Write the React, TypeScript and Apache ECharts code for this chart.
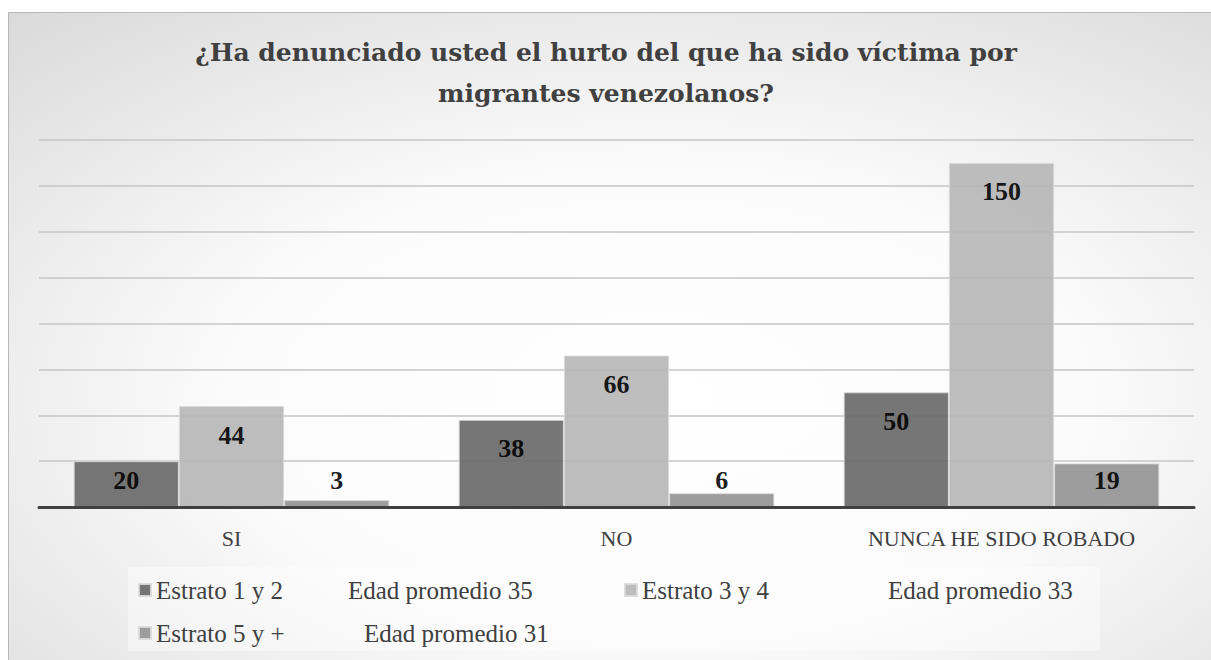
import React, { useEffect, useRef } from 'react';
import * as echarts from 'echarts';

const categories = ['SI', 'NO', 'NUNCA HE SIDO ROBADO'];
const estrato12 = [20, 38, 50];
const estrato34 = [44, 66, 150];
const estrato5 = [3, 6, 19];
const barNames = ['Estrato 1 y 2', 'Estrato 3 y 4', 'Estrato 5 y +'];
const blankNames = ['Edad promedio 35', 'Edad promedio 33', 'Edad promedio 31'];
const yMin = 0;
const yMax = 160;
const yInterval = 20;
const titleText = '¿Ha denunciado usted el hurto del que ha sido víctima por\nmigrantes venezolanos?';

const W = 1203;
const H = 648;

export default function App() {
  const ref = useRef<HTMLDivElement>(null);
  useEffect(() => {
    const chart = echarts.init(ref.current!, null, { renderer: 'svg' });
    const labelFor = (v: number) =>
      v > 24 ? { position: 'insideTop', distance: 16 } : { position: 'insideBottom', distance: 14 };
    const barData = (vals: number[]) => vals.map((v) => ({ value: v, label: labelFor(v) }));
    const bar = (name: string, vals: number[], color: string) => ({
      type: 'bar',
      name,
      data: barData(vals),
      barGap: '0%',
      barCategoryGap: '18%',
      itemStyle: { color, opacity: 0.9, borderColor: '#dadada', borderWidth: 1 },
      label: {
        show: true,
        fontFamily: 'Liberation Serif',
        fontWeight: 'bold',
        fontSize: 26,
        color: '#000',
      },
    });
    const blank = (name: string) => ({
      type: 'line',
      name,
      data: [],
      itemStyle: { color: 'rgba(0,0,0,0)' },
      lineStyle: { color: 'rgba(0,0,0,0)' },
    });
    const legendText = { fontFamily: 'Liberation Serif', fontSize: 25, color: '#404040', lineHeight: 26 };
    const leg = (name: string, left: number, top: number) => ({
      data: [name],
      left,
      top,
      padding: 0,
      icon: 'rect',
      itemWidth: 12,
      itemHeight: 12,
      selectedMode: false,
      textStyle: legendText,
    });
    chart.setOption({
      animation: false,
      graphic: {
        elements: [
          {
            type: 'rect',
            z: -100,
            silent: true,
            shape: { x: 0.5, y: 0.5, width: W, height: H },
            style: {
              fill: {
                type: 'radial',
                x: 0.54,
                y: 0.6,
                r: 1.12,
                colorStops: [
                  { offset: 0, color: '#ffffff' },
                  { offset: 0.32, color: '#fbfbfb' },
                  { offset: 1, color: '#c2c2c2' },
                ],
              },
              stroke: '#b8b8b8',
              lineWidth: 1,
            },
          },
          {
            type: 'rect',
            z: -90,
            silent: true,
            shape: { x: 120, y: 555, width: 972, height: 84 },
            style: { fill: 'rgba(255,255,255,0.4)' },
          },
        ],
      },
      title: {
        text: titleText,
        left: 598,
        top: 19.5,
        padding: 0,
        textAlign: 'center',
        textStyle: {
          fontFamily: 'DejaVu Serif',
          fontWeight: 'bold',
          fontSize: 25,
          lineHeight: 41,
          color: '#404040',
        },
      },
      legend: [
        leg(barNames[0], 130, 565),
        leg(blankNames[0], 323, 565),
        leg(barNames[1], 616, 565),
        leg(blankNames[1], 863, 565),
        leg(barNames[2], 130, 608),
        leg(blankNames[2], 339, 608),
      ],
      grid: { left: 31, right: 17, top: 128, bottom: 153, containLabel: false },
      xAxis: {
        type: 'category',
        data: categories,
        axisTick: { show: false },
        axisLine: { show: true, lineStyle: { color: '#404040', width: 3 } },
        axisLabel: {
          fontFamily: 'Liberation Serif',
          fontSize: 22,
          color: '#404040',
          margin: 20,
        },
        z: 5,
      },
      yAxis: {
        type: 'value',
        min: yMin,
        max: yMax,
        interval: yInterval,
        axisLabel: { show: false },
        axisLine: { show: false },
        axisTick: { show: false },
        splitLine: { show: true, lineStyle: { color: '#c6c6c6', width: 1.5 } },
      },
      series: [
        bar(barNames[0], estrato12, '#676767'),
        blank(blankNames[0]),
        bar(barNames[1], estrato34, '#b6b6b6'),
        blank(blankNames[1]),
        bar(barNames[2], estrato5, '#929292'),
        blank(blankNames[2]),
      ],
    });
    return () => chart.dispose();
  }, []);
  return (
    <div
      ref={ref}
      style={{ position: 'absolute', left: 8, top: 12, width: W, height: H }}
    />
  );
}
